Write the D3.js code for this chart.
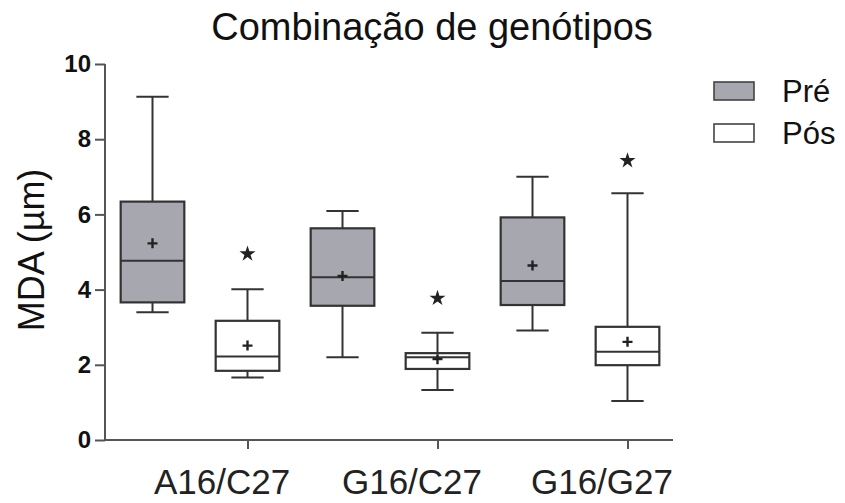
<!DOCTYPE html>
<html>
<head>
<meta charset="utf-8">
<script src="https://cdn.jsdelivr.net/npm/d3@7"></script>
<style>
  html, body { margin: 0; padding: 0; background: #fff; }
  svg { display: block; font-family: "Liberation Sans", Arial, sans-serif; }
</style>
</head>
<body>
<svg id="chart" width="845" height="503"></svg>
<script>
// ---- data ----
const groups = ["A16/C27", "G16/C27", "G16/G27"];
const series = ["Pré", "Pós"];
const yTicks = [0, 2, 4, 6, 8, 10];

const preMin    = [3.40, 2.20, 2.91];
const preQ1     = [3.66, 3.57, 3.59];
const preMedian = [4.77, 4.33, 4.23];
const preQ3     = [6.34, 5.63, 5.92];
const preMax    = [9.13, 6.09, 7.00];
const preMean   = [5.23, 4.36, 4.64];

const posMin    = [1.66, 1.33, 1.04];
const posQ1     = [1.84, 1.89, 1.99];
const posMedian = [2.22, 2.20, 2.35];
const posQ3     = [3.17, 2.31, 3.01];
const posMax    = [4.01, 2.85, 6.56];
const posMean   = [2.51, 2.15, 2.61];
const posStar   = [4.95, 3.77, 7.43];

const title = "Combinação de genótipos";
const yLabel = "MDA (µm)";

// ---- build ----
(function () {
const boxes = [];
groups.forEach((g, i) => {
  boxes.push({group: g, series: "Pré", min: preMin[i], q1: preQ1[i], med: preMedian[i], q3: preQ3[i], max: preMax[i], mean: preMean[i], star: null});
  boxes.push({group: g, series: "Pós", min: posMin[i], q1: posQ1[i], med: posMedian[i], q3: posQ3[i], max: posMax[i], mean: posMean[i], star: posStar[i]});
});

const svg = d3.select("#chart");
const mLeft = 105, mRight = 675, mTop = 64, mBottom = 440;
const stroke = "#333";
const fills = {"Pré": "#a7a7af", "Pós": "#ffffff"};

const y = d3.scaleLinear().domain([0, 10]).range([mBottom, mTop]);
const x0 = d3.scaleBand().domain(groups).range([mLeft, mRight]).padding(0);
const x1 = d3.scaleBand().domain(series).range([0, x0.bandwidth()]).padding(0);
const boxW = x1.bandwidth() * 0.67;
const capW = x1.bandwidth() * 0.34;
const cx = d => x0(d.group) + x1(d.series) + x1.bandwidth() / 2;

// title
svg.append("text").attr("x", 432).attr("y", 40).attr("text-anchor", "middle")
  .attr("font-size", 38).attr("fill", "#111").text(title);

// y axis
const yAxis = svg.append("g").attr("transform", `translate(${mLeft},0)`)
  .call(d3.axisLeft(y).tickValues(yTicks).tickFormat(d3.format("d")).tickSize(10).tickPadding(4));
yAxis.select(".domain").attr("stroke", "#555").attr("stroke-width", 2).attr("d", `M0,${mTop}V${mBottom}`);
yAxis.selectAll(".tick line").attr("stroke", "#555").attr("stroke-width", 2);
yAxis.selectAll(".tick text").attr("font-size", 24).attr("font-weight", "bold").attr("fill", "#111")
  .attr("font-family", "Liberation Sans, Arial, sans-serif");

// x axis (ticks at the Pós box centres, as in the reference)
const xTickScale = d3.scalePoint().domain(groups)
  .range([x0(groups[0]) + x1("Pós") + x1.bandwidth() / 2, x0(groups[groups.length - 1]) + x1("Pós") + x1.bandwidth() / 2]);
const xAxis = svg.append("g").attr("transform", `translate(0,${mBottom})`)
  .call(d3.axisBottom(xTickScale).tickSize(9).tickFormat(""));
xAxis.select(".domain").attr("stroke", "#555").attr("stroke-width", 2).attr("d", `M${mLeft},0H${mRight - 2}`);
xAxis.selectAll(".tick line").attr("stroke", "#555").attr("stroke-width", 2);

svg.append("g").selectAll("text").data(groups).join("text")
  .attr("x", g => x0(g) + x0.bandwidth() / 2 + 22)
  .attr("y", 494).attr("text-anchor", "middle").attr("font-size", 35).attr("fill", "#222")
  .text(g => g);

// y label
svg.append("text").attr("transform", `translate(44,250) rotate(-90)`)
  .attr("text-anchor", "middle").attr("font-size", 36).attr("fill", "#111").text(yLabel);

// boxes
const gb = svg.append("g").selectAll("g").data(boxes).join("g");
gb.append("line").attr("x1", cx).attr("x2", cx).attr("y1", d => y(d.max)).attr("y2", d => y(d.q3))
  .attr("stroke", stroke).attr("stroke-width", 2);
gb.append("line").attr("x1", cx).attr("x2", cx).attr("y1", d => y(d.q1)).attr("y2", d => y(d.min))
  .attr("stroke", stroke).attr("stroke-width", 2);
gb.append("line").attr("x1", d => cx(d) - capW / 2).attr("x2", d => cx(d) + capW / 2)
  .attr("y1", d => y(d.max)).attr("y2", d => y(d.max)).attr("stroke", stroke).attr("stroke-width", 2);
gb.append("line").attr("x1", d => cx(d) - capW / 2).attr("x2", d => cx(d) + capW / 2)
  .attr("y1", d => y(d.min)).attr("y2", d => y(d.min)).attr("stroke", stroke).attr("stroke-width", 2);
gb.append("rect").attr("x", d => cx(d) - boxW / 2).attr("width", boxW)
  .attr("y", d => y(d.q3)).attr("height", d => y(d.q1) - y(d.q3))
  .attr("fill", d => fills[d.series]).attr("stroke", stroke).attr("stroke-width", 2.2);
gb.append("line").attr("x1", d => cx(d) - boxW / 2).attr("x2", d => cx(d) + boxW / 2)
  .attr("y1", d => y(d.med)).attr("y2", d => y(d.med)).attr("stroke", stroke).attr("stroke-width", 2);
// mean "+"
gb.append("path").attr("d", d => `M${cx(d) - 5},${y(d.mean)}h10M${cx(d)},${y(d.mean) - 5}v10`)
  .attr("stroke", "#222").attr("stroke-width", 2.4);
// stars
gb.filter(d => d.star !== null).append("path")
  .attr("d", d3.symbol().type(d3.symbolStar).size(80))
  .attr("transform", d => `translate(${cx(d)},${y(d.star)})`).attr("fill", "#222");

// legend
const lg = svg.append("g").selectAll("g").data(series).join("g")
  .attr("transform", (d, i) => `translate(714,${82 + i * 42})`);
lg.append("rect").attr("width", 40).attr("height", 18).attr("fill", d => fills[d])
  .attr("stroke", "#444").attr("stroke-width", 1.6);
lg.append("text").attr("x", 68).attr("y", 20).attr("font-size", 31).attr("fill", "#111").text(d => d);
})();
</script>
</body>
</html>
